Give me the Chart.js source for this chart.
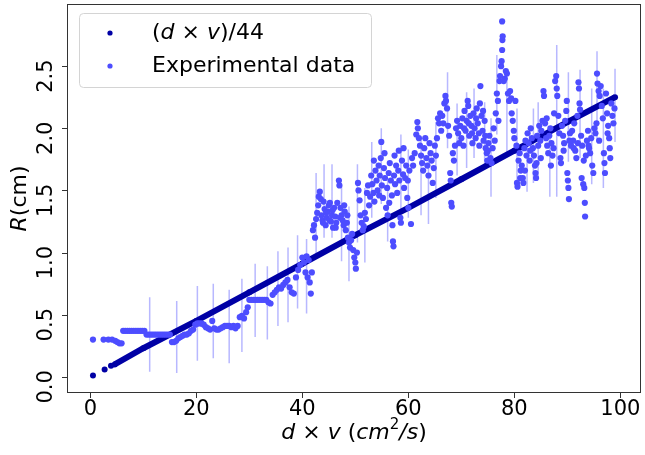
<!DOCTYPE html>
<html>
<head>
<meta charset="utf-8">
<script src="https://cdn.jsdelivr.net/npm/chart.js@4.4.0/dist/chart.umd.min.js"></script>
<style>
  html, body { margin: 0; padding: 0; background: #fff; }
  #wrap { width: 645px; height: 455px; position: relative; }
</style>
</head>
<body>
<div id="wrap"><canvas id="chart"></canvas></div>
<script>
// ---- data ----
// model: (d x v)/44
const modelX = [0.5, 2.7, 3.9, 4.6, 10, 20, 30, 40, 50, 60, 70, 80, 90, 99];
const modelY = [0.01, 0.06, 0.09, 0.10, 0.23, 0.45, 0.68, 0.91, 1.14, 1.36, 1.59, 1.82, 2.05, 2.25];

// experimental points
const expX = [
  0.5, 2.5, 3.4, 4.1, 4.7, 5.1, 5.5, 5.9, 6.2, 6.6, 7.0, 7.4, 7.8, 8.2, 8.6, 9.0, 9.4, 9.8, 10.2, 10.6, 11.0, 11.4, 11.8, 12.2, 12.6, 13.0, 13.4, 13.8, 14.2, 14.6, 15.0,
  15.4, 15.8, 16.2, 16.6, 17.0, 17.4, 17.8, 18.2, 18.6, 19.0, 19.4, 19.8, 20.2, 20.6, 21.0, 21.4, 21.8, 22.2, 22.6, 23.0, 23.4, 23.8, 24.2, 24.6, 25.0, 25.4, 25.8, 26.2, 26.6, 27.0, 27.4, 27.8, 28.2, 28.6, 29.0, 29.4, 29.7,
  30.0, 30.4, 30.8, 31.2, 31.6, 32.0, 32.4, 32.8, 33.2, 33.6, 34.0, 34.4, 34.8, 35.2, 35.6, 36.0, 36.4, 36.8, 37.2, 37.6, 38.0, 38.4, 38.8, 39.2, 39.6, 40.0, 40.3, 40.6, 41.0, 41.4, 41.6, 41.8, 40.8, 41.2,
  42.0, 42.2, 42.4, 42.6, 42.8, 43.0, 43.1, 43.3, 43.5, 43.6, 43.8, 44.0, 44.2, 44.4, 44.6, 44.8, 45.0, 45.2, 45.4, 45.6, 45.8, 46.0, 46.2, 46.4, 46.6, 46.9, 47.0, 47.2, 47.4, 47.6, 47.8, 48.0, 48.2, 48.4, 48.6, 48.8, 49.0, 49.2, 49.4, 49.6, 49.8, 50.0, 50.1, 50.3, 50.5, 50.6, 50.8, 51.0, 51.2, 51.4, 51.6, 51.8, 52.0, 52.2, 52.4,
  43.9, 44.5, 45.1, 45.7, 46.3, 47.1, 47.9, 48.5,
  52.6, 52.8, 53.0, 53.2, 53.4, 53.6, 53.8, 54.0, 54.2, 54.4, 54.6, 54.8, 54.9, 55.0, 55.2, 55.4, 55.6, 55.8, 56.0, 56.1, 56.3, 56.5, 56.7, 56.9, 57.0, 57.1, 57.2, 57.3, 57.5, 57.7, 57.9, 58.1, 58.3, 58.5, 58.6, 58.8, 59.0, 59.2, 59.4, 59.6, 59.8, 60.0, 60.2, 60.5, 60.7, 60.9,
  53.5, 54.5, 55.5, 56.4, 57.4, 58.2, 59.1, 59.9,
  61.2, 61.5, 61.7, 61.8, 62.0, 62.2, 62.4, 62.6, 62.8, 63.0, 63.2, 63.4, 63.6, 63.8, 64.0, 64.2, 64.4, 64.6, 64.8, 65.0, 65.2, 65.4, 65.6, 65.8, 66.0, 66.2, 66.4, 66.6, 66.8, 67.0, 67.1, 67.3, 67.5, 67.7, 67.9, 68.0, 68.1, 68.2, 68.4, 68.6, 68.8, 69.0, 69.2, 69.4, 69.6, 69.8, 70.0,
  70.2, 70.4, 70.6, 70.8, 71.0, 71.2, 71.3, 71.5, 71.7, 71.9, 72.1, 72.3, 72.5, 72.7, 72.9, 73.1, 73.3, 73.5, 73.6, 73.8, 74.0, 74.2, 74.4, 74.6, 74.8, 74.9, 75.1, 75.3, 75.5, 75.7, 75.9, 76.1, 76.3, 76.5, 76.7, 76.9, 77.0, 77.2, 77.3, 77.5, 77.6, 77.7, 77.75, 77.8, 77.7, 78.0, 78.2, 78.4, 78.6, 78.8, 79.0, 79.2, 79.4, 79.5, 79.7, 79.9, 80.0,
  70.5, 71.4, 72.0, 72.8, 73.4, 74.1, 74.5, 75.0,
  80.2, 80.4, 80.5, 80.6, 80.8, 81.0, 81.2, 81.4, 81.6, 81.7, 81.9, 82.1, 82.3, 82.5, 82.7, 82.9, 83.1, 83.3, 83.5, 83.7, 83.9, 84.0, 84.1, 84.3, 84.5, 84.7, 84.9, 85.1, 85.3, 85.5, 85.6, 85.8, 86.0, 86.2, 86.4, 86.6, 86.8, 87.0, 87.2, 87.4, 87.7, 87.9, 88.0, 88.1, 88.3, 88.5,
  81.1, 82.0, 83.0, 84.2, 85.0, 86.1, 86.9, 87.5,
  88.7, 88.8, 89.0, 89.2, 89.4, 89.6, 89.8, 89.9, 90.0, 90.1, 90.2, 90.3, 90.5, 90.7, 90.9, 91.1, 91.3, 91.5, 91.7, 91.9, 92.1, 92.2, 92.3, 92.4, 92.6, 92.7, 92.8, 93.0, 93.2, 93.3, 93.35, 93.5, 93.7, 93.9, 94.1, 94.3, 94.5, 94.7, 94.9, 95.1, 95.3, 95.5, 95.6, 95.7, 95.9, 96.1, 96.3, 96.5, 96.7, 96.9, 97.0, 97.1, 97.3, 97.5, 97.7, 97.9, 98.0, 98.1, 98.3, 98.5, 98.7, 98.9,
  89.3, 90.4, 91.2, 92.0, 93.1, 94.0, 96.0, 97.6
];
const expY = [
  0.30, 0.30, 0.30, 0.30, 0.29, 0.28, 0.27, 0.27, 0.37, 0.37, 0.37, 0.37, 0.37, 0.37, 0.37, 0.37, 0.37, 0.37, 0.37, 0.34, 0.34, 0.34, 0.34, 0.34, 0.34, 0.34, 0.34, 0.34, 0.34, 0.34, 0.34,
  0.28, 0.28, 0.29, 0.31, 0.32, 0.33, 0.34, 0.34, 0.35, 0.37, 0.38, 0.42, 0.43, 0.43, 0.43, 0.42, 0.40, 0.39, 0.38, 0.45, 0.39, 0.38, 0.38, 0.39, 0.40, 0.41, 0.41, 0.41, 0.40, 0.41, 0.39, 0.41, 0.48, 0.49, 0.47, 0.52, 0.56,
  0.62, 0.62, 0.62, 0.62, 0.62, 0.62, 0.62, 0.62, 0.62, 0.60, 0.59, 0.66, 0.68, 0.70, 0.72, 0.71, 0.74, 0.76, 0.78, 0.72, 0.68, 0.67, 0.80, 0.86, 0.90, 0.96, 0.92, 0.84, 0.80, 0.76, 0.67, 0.84, 0.97, 0.94,
  1.18, 1.22, 1.12, 1.27, 1.32, 1.38, 1.45, 1.49, 1.43, 1.30, 1.26, 1.41, 1.35, 1.22, 1.28, 1.33, 1.38, 1.40, 1.25, 1.30, 1.20, 1.36, 1.29, 1.24, 1.40, 1.58, 1.54, 1.36, 1.30, 1.26, 1.22, 1.33, 1.18, 1.24, 1.12, 1.08, 1.04, 1.10, 1.15, 1.02, 0.96, 0.92, 0.87, 1.00, 1.56, 1.50, 1.42, 1.30, 1.24, 1.18, 1.21, 1.32, 1.27, 1.48, 1.54,
  1.24, 1.32, 1.26, 1.34, 1.20, 1.28, 1.38, 1.30,
  1.38, 1.45, 1.62, 1.55, 1.48, 1.41, 1.66, 1.58, 1.50, 1.70, 1.62, 1.76, 1.89, 1.54, 1.44, 1.68, 1.60, 1.36, 1.52, 1.30, 1.64, 1.72, 1.58, 1.46, 1.22, 1.09, 1.05, 1.62, 1.55, 1.70, 1.48, 1.66, 1.58, 1.28, 1.24, 1.74, 1.63, 1.52, 1.60, 1.70, 1.44, 1.36, 1.66, 1.23, 1.76, 1.70,
  1.74, 1.46, 1.80, 1.40, 1.78, 1.82, 1.84, 1.58,
  1.80, 1.95, 2.05, 2.00, 1.92, 1.86, 1.78, 1.72, 1.66, 1.84, 1.92, 1.76, 1.70, 1.62, 1.88, 1.80, 1.74, 1.56, 1.68, 1.86, 1.78, 1.92, 2.08, 2.04, 2.12, 1.98, 2.10, 2.04, 2.20, 2.26, 2.22, 2.16, 2.02, 1.94, 1.64, 1.58, 1.40, 1.37, 1.80, 1.74, 1.86, 2.00, 2.06, 1.96, 1.88, 2.02, 1.92,
  2.08, 1.86, 2.14, 1.98, 2.06, 2.22, 2.18, 1.94, 2.10, 2.02, 1.88, 2.12, 2.00, 1.92, 2.16, 2.04, 1.96, 2.20, 2.34, 2.10, 1.98, 1.90, 2.06, 1.84, 1.80, 1.74, 1.88, 1.94, 1.76, 1.72, 1.84, 2.00, 1.90, 2.12, 2.28, 2.22, 2.06, 2.38, 2.42, 2.50, 2.54, 2.63, 2.71, 2.74, 2.86, 2.38, 2.40, 2.46, 2.44, 2.28, 2.22, 2.30, 2.24, 2.12, 2.06, 1.98, 1.92,
  2.00, 2.04, 1.96, 2.08, 1.86, 2.14, 1.94, 1.82,
  2.22, 1.86, 1.56, 1.53, 1.74, 1.80, 1.66, 1.70, 1.60, 1.56, 1.84, 1.90, 1.78, 1.96, 1.88, 1.74, 2.00, 1.92, 1.84, 1.78, 1.70, 1.64, 1.60, 1.94, 1.86, 2.02, 1.90, 1.98, 2.06, 2.30, 2.26, 2.04, 1.92, 1.86, 1.80, 1.94, 2.00, 1.88, 1.78, 1.84, 2.38, 2.42, 2.32, 2.26, 2.10, 1.96,
  1.60, 1.66, 1.82, 1.72, 1.76, 2.08, 1.70, 2.12,
  1.76, 1.72, 2.02, 1.94, 1.88, 2.06, 2.14, 2.22, 1.64, 1.58, 1.52, 1.43, 1.96, 1.86, 1.98, 1.90, 2.04, 1.82, 1.76, 2.10, 2.37, 2.32, 2.20, 2.15, 1.94, 1.60, 1.86, 1.55, 1.52, 1.40, 1.29, 1.78, 1.90, 1.98, 1.84, 1.80, 1.92, 1.70, 1.64, 2.00, 1.96, 2.04, 2.44, 2.36, 2.30, 2.26, 2.34, 2.18, 2.08, 1.80, 1.72, 1.64, 2.28, 2.12, 2.02, 1.92, 1.84, 1.76, 2.20, 2.10, 2.04, 2.16,
  1.82, 1.90, 1.84, 1.88, 1.74, 1.86, 1.90, 1.96
];

// error bars (only drawn on some points)
const errX    = [11.2, 16.3, 20.2, 23.2, 26.2, 28.6, 31.1, 33.4, 35.4, 37.3, 39.1, 40.8, 42.6, 44.1, 45.6, 47.4, 48.8, 50.4, 51.8, 53.1, 54.9, 56.1, 58.6, 60.0, 62.4, 63.8, 65.2, 67.4, 69.2, 71.0, 72.4, 74.4, 75.6, 76.7, 78.6, 80.5, 82.4, 83.6, 84.5, 86.7, 88.0, 90.2, 92.4, 94.6, 95.6, 96.8, 99.0];
const errLow  = [0.04, 0.03, 0.13, 0.15, 0.11, 0.20, 0.32, 0.30, 0.41, 0.44, 0.55, 0.51, 0.96, 1.12, 1.12, 0.93, 0.77, 1.08, 0.92, 1.28, 1.39, 1.09, 1.33, 1.28, 1.30, 1.23, 1.44, 1.84, 1.62, 1.68, 1.76, 1.68, 1.45, 1.95, 1.80, 1.57, 1.49, 1.56, 1.60, 1.45, 1.45, 1.73, 1.76, 1.55, 1.90, 1.52, 1.89];
const errHigh = [0.64, 0.61, 0.73, 0.75, 0.70, 0.79, 0.91, 0.89, 1.01, 1.04, 1.14, 1.11, 1.64, 1.71, 1.71, 1.53, 1.37, 1.71, 1.52, 1.89, 2.00, 1.60, 1.95, 1.83, 1.92, 1.79, 2.05, 2.45, 2.20, 2.29, 2.32, 2.21, 2.08, 2.59, 2.40, 2.16, 1.92, 2.16, 2.21, 2.00, 2.67, 2.45, 2.47, 2.32, 2.62, 2.32, 2.48];

// ticks
const xTicks = [0, 20, 40, 60, 80, 100];
const yTicks = [0.0, 0.5, 1.0, 1.5, 2.0, 2.5];

const NAVY = 'rgb(0,0,165)';
const BLUE = 'rgb(77,77,255)';
const FONT = '"DejaVu Sans", sans-serif';

// small helper to draw text made of upright / italic / superscript bits
function fontFor(p, size) {
  return (p.i ? 'italic ' : '') + (p.sup ? Math.round(size * 0.7) : size) + 'px ' + FONT;
}
function drawRich(ctx, parts, x, y, size, align, angle) {
  ctx.save();
  ctx.translate(x, y);
  if (angle) ctx.rotate(angle);
  ctx.textBaseline = 'middle';
  ctx.textAlign = 'left';
  ctx.fillStyle = '#000';
  let w = 0;
  parts.forEach(p => { ctx.font = fontFor(p, size); w += ctx.measureText(p.t).width; });
  let cx = align === 'center' ? -w / 2 : 0;
  parts.forEach(p => {
    ctx.font = fontFor(p, size);
    ctx.fillText(p.t, cx, p.sup ? -size * 0.38 : 0);
    cx += ctx.measureText(p.t).width;
  });
  ctx.restore();
}

const decor = {
  id: 'decor',
  beforeDatasetsDraw: (chart) => {
    const { ctx, chartArea: a } = chart;
    const xs = chart.scales.x, ys = chart.scales.y;
    ctx.save();
    ctx.beginPath();
    ctx.rect(a.left, a.top, a.right - a.left, a.bottom - a.top);
    ctx.clip();
    ctx.strokeStyle = 'rgba(77,77,255,0.4)';
    ctx.lineWidth = 1.5;
    ctx.beginPath();
    errX.forEach((v, i) => {
      const px = xs.getPixelForValue(v);
      ctx.moveTo(px, ys.getPixelForValue(errLow[i]));
      ctx.lineTo(px, ys.getPixelForValue(errHigh[i]));
    });
    ctx.stroke();
    ctx.restore();
  },
  afterDraw: (chart) => {
    const { ctx, chartArea: a } = chart;
    const xs = chart.scales.x, ys = chart.scales.y;
    ctx.save();

    // frame
    ctx.strokeStyle = '#333';
    ctx.lineWidth = 1;
    ctx.strokeRect(Math.round(a.left) + 0.5, Math.round(a.top) + 0.5, Math.round(a.right - a.left) - 1, Math.round(a.bottom - a.top) - 1);

    // tick marks + labels
    ctx.beginPath();
    xTicks.forEach(v => {
      const px = Math.round(xs.getPixelForValue(v)) + 0.5;
      ctx.moveTo(px, a.bottom); ctx.lineTo(px, a.bottom + 5);
    });
    yTicks.forEach(v => {
      const py = Math.round(ys.getPixelForValue(v)) + 0.5;
      ctx.moveTo(a.left, py); ctx.lineTo(a.left - 5, py);
    });
    ctx.stroke();

    ctx.fillStyle = '#000';
    ctx.font = '21px ' + FONT;
    ctx.textAlign = 'center';
    ctx.textBaseline = 'middle';
    xTicks.forEach(v => ctx.fillText(String(v), xs.getPixelForValue(v), 410));
    yTicks.forEach(v => {
      ctx.save();
      ctx.translate(47, ys.getPixelForValue(v) + 10);
      ctx.rotate(-Math.PI / 2);
      ctx.fillText(v.toFixed(1), 0, 0);
      ctx.restore();
    });

    // axis titles
    drawRich(ctx, [{ t: 'd', i: true }, { t: ' × ' }, { t: 'v', i: true }, { t: ' (' }, { t: 'cm', i: true }, { t: '2', sup: true }, { t: '/s', i: true }, { t: ')' }],
      (a.left + a.right) / 2, 433, 22, 'center');
    drawRich(ctx, [{ t: 'R', i: true }, { t: '(cm)' }], 20, (a.top + a.bottom) / 2, 22, 'center', -Math.PI / 2);

    // legend
    ctx.beginPath();
    ctx.roundRect(79.5, 13.5, 292, 74, 4);
    ctx.fillStyle = 'rgba(255,255,255,0.8)';
    ctx.fill();
    ctx.strokeStyle = '#d4d4d4';
    ctx.stroke();
    [[NAVY, 33], [BLUE, 66]].forEach(([c, y]) => {
      ctx.beginPath();
      ctx.arc(110, y, 2.6, 0, Math.PI * 2);
      ctx.fillStyle = c;
      ctx.fill();
    });
    drawRich(ctx, [{ t: '(' }, { t: 'd', i: true }, { t: ' × ' }, { t: 'v', i: true }, { t: ')/44' }], 152, 33, 22, 'left');
    drawRich(ctx, [{ t: chart.data.datasets[0].label }], 152, 66, 22, 'left');
    ctx.restore();
  }
};

const chart = new Chart(document.getElementById('chart').getContext('2d'), {
  type: 'scatter',
  data: {
    datasets: [{
      label: 'Experimental data',
      data: expX.map((x, i) => ({ x: x, y: expY[i] })),
      backgroundColor: BLUE,
      borderWidth: 0,
      pointRadius: 3.1,
      order: 0
    }, {
      label: '(d × v)/44',
      data: modelX.map((x, i) => ({ x: x, y: modelY[i] })),
      showLine: true,
      borderColor: NAVY,
      borderWidth: 6,
      // the first few model points sit apart from the line
      segment: { borderColor: c => c.p0.parsed.x < 4.5 ? 'rgba(0,0,0,0)' : NAVY },
      backgroundColor: NAVY,
      pointRadius: 3,
      pointBorderWidth: 0,
      order: 1
    }]
  },
  options: {
    responsive: true,
    maintainAspectRatio: false,
    animation: false,
    devicePixelRatio: 1,
    layout: { padding: { left: 67, right: 1, top: 2, bottom: 62 } },
    scales: {
      x: { type: 'linear', min: -4.4, max: 103.9, display: false },
      y: { type: 'linear', min: -0.13, max: 3.0, display: false }
    },
    plugins: { legend: { display: false }, tooltip: { enabled: false } }
  },
  plugins: [decor]
});
</script>
</body>
</html>
